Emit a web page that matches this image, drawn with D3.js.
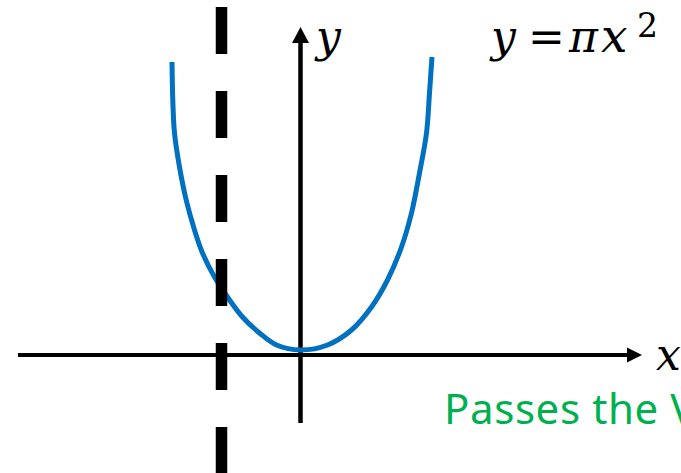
<!DOCTYPE html>
<html>
<head>
<meta charset="utf-8">
<script src="https://cdn.jsdelivr.net/npm/d3@7"></script>
<style>
  html, body { margin: 0; padding: 0; background: #fff; overflow: hidden; }
  svg { display: block; }
</style>
</head>
<body>
<div id="chart"></div>
<script>
// curve (x right of the y axis, y above the x axis)
const curveX = [-1.285, -1.277, -1.26, -1.21, -1.143, -1.06, -0.98, -0.86, -0.73, -0.58, -0.41, -0.24, 0,
                0.27, 0.51, 0.71, 0.87, 1.01, 1.11, 1.19, 1.26, 1.29, 1.315];
const curveY = [2.93, 2.55, 2.22, 1.88, 1.55, 1.25, 1.02, 0.78, 0.58, 0.38, 0.22, 0.10, 0.05,
                0.10, 0.25, 0.48, 0.75, 1.08, 1.42, 1.82, 2.22, 2.62, 2.98];
const xAxisExtent = [-2.825, 3.415];
const yAxisExtent = [-0.68, 3.28];
const testLineX = -0.79;
const equation = ["y", "=", "π", "x", "2"];
const caption = "Passes the Vertical Line Test";

const width = 681, height = 473;

const x = d3.scaleLinear().domain([-3, 3.5]).range([0.5, 650.5]);
const y = d3.scaleLinear().domain([-1.5, 3.5]).range([505, 5]);

const svg = d3.select("#chart").append("svg")
    .attr("width", width)
    .attr("height", height)
    .attr("viewBox", [0, 0, width, height]);

const points = curveX.map((d, i) => [d, curveY[i]]);

// axes with arrow heads
const axisColor = "#000";
svg.append("line")
    .attr("x1", x(xAxisExtent[0])).attr("x2", x(xAxisExtent[1]) - 12)
    .attr("y1", y(0)).attr("y2", y(0))
    .attr("stroke", axisColor).attr("stroke-width", 4);
svg.append("path")
    .attr("d", `M${x(xAxisExtent[1])},${y(0)} L${x(xAxisExtent[1]) - 15},${y(0) - 7.5} L${x(xAxisExtent[1]) - 15},${y(0) + 7.5} Z`)
    .attr("fill", axisColor);

svg.append("line")
    .attr("x1", x(0)).attr("x2", x(0))
    .attr("y1", y(yAxisExtent[0])).attr("y2", y(yAxisExtent[1]) + 12)
    .attr("stroke", axisColor).attr("stroke-width", 4.5);
svg.append("path")
    .attr("d", `M${x(0)},${y(yAxisExtent[1])} L${x(0) - 8.5},${y(yAxisExtent[1]) + 16} L${x(0) + 8.5},${y(yAxisExtent[1]) + 16} Z`)
    .attr("fill", axisColor);

// the curve
const line = d3.line()
    .x(d => x(d[0]))
    .y(d => y(d[1]))
    .curve(d3.curveCatmullRom);

svg.append("path")
    .datum(points)
    .attr("fill", "none")
    .attr("stroke", "#0070C0")
    .attr("stroke-width", 5)
    .attr("d", line);

// vertical line test, dashed
svg.append("line")
    .attr("x1", x(testLineX)).attr("x2", x(testLineX))
    .attr("y1", 7).attr("y2", height + 10)
    .attr("stroke", "#000")
    .attr("stroke-width", 11.5)
    .attr("stroke-dasharray", "47 37");

// labels
const mathFont = "'DejaVu Serif', serif";
svg.append("text")
    .attr("x", 316).attr("y", 52)
    .attr("font-family", mathFont).attr("font-style", "italic")
    .attr("font-size", 44)
    .text("y");

svg.append("text")
    .attr("x", 656).attr("y", 370)
    .attr("font-family", mathFont).attr("font-style", "italic")
    .attr("font-size", 44)
    .text("x");

const eq = svg.append("text")
    .attr("y", 52)
    .attr("font-family", mathFont)
    .attr("font-size", 44);
eq.append("tspan").attr("x", 491).attr("font-style", "italic").text(equation[0]);
eq.append("tspan").attr("x", 528).text(equation[1]);
eq.append("tspan").attr("x", 569).attr("font-style", "italic").text(equation[2]);
eq.append("tspan").attr("x", 601).attr("font-style", "italic").attr("font-size", 47).text(equation[3]);
eq.append("tspan").attr("x", 637).attr("y", 37).attr("font-size", 33).text(equation[4]);

svg.append("text")
    .attr("x", 444).attr("y", 424)
    .attr("font-family", "'Noto Sans', sans-serif")
    .attr("font-size", 42)
    .attr("letter-spacing", 0.6)
    .attr("fill", "#00B050")
    .text(caption);
</script>
</body>
</html>
